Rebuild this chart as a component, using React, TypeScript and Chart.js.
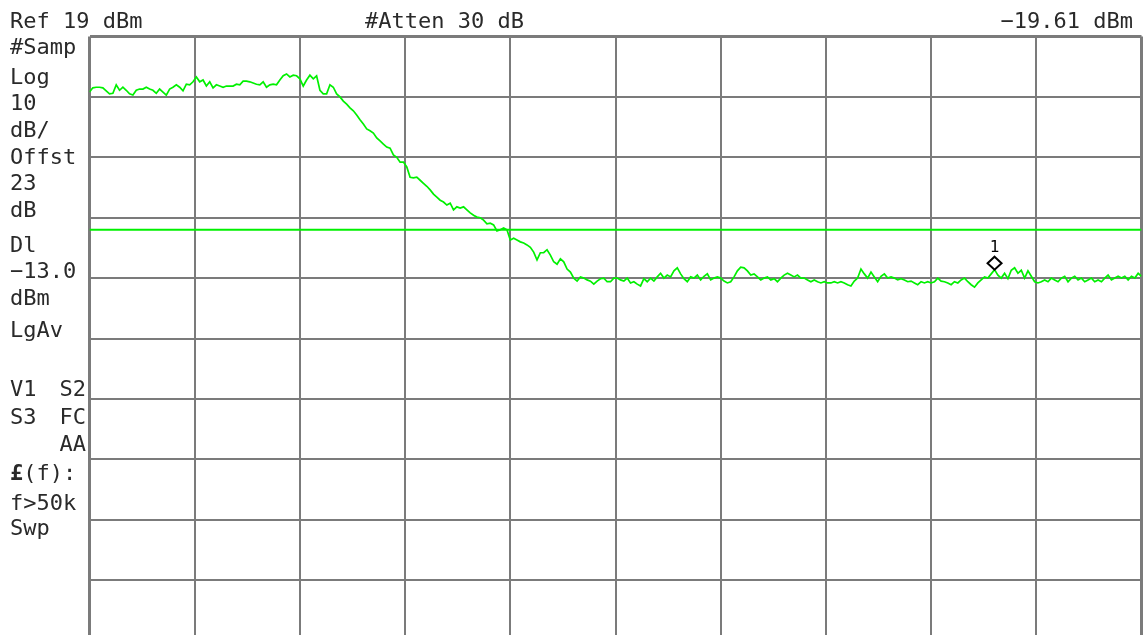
import React, { useEffect, useRef } from "react";
import { Chart, registerables } from "chart.js";

Chart.register(...registerables);

// ---------- data ----------
const Y_TICKS = [19, 9, -1, -11, -21, -31, -41, -51, -61, -71, -81];
const X_TICKS = [0, 31.5, 63, 94.5, 126, 157.5, 189, 220.5, 252, 283.5, 315];
const DISPLAY_LINE = -13.0;
const MARKER_INDEX = 271;
const MARKER_VALUE = -19.61;
const MARKER_LABEL = "1";

const HEADER_LEFT = "Ref 19 dBm";
const HEADER_MID = "#Atten 30 dB";
const HEADER_RIGHT = "\u221219.61 dBm";

const LEFT_LINES = ["#Samp", "Log", "10", "dB/", "Offst", "23", "dB", "Dl", "\u221213.0", "dBm", "LgAv"];
const PAIR_LEFT = ["V1", "S3", ""];
const PAIR_RIGHT = ["S2", "FC", "AA"];
const BOTTOM_LINES = ["(f):", "f>50k", "Swp"];
const BOLD_PREFIX = "\u00a3";

// trace level in dBm at each sweep point
const TRACE = [
  9.8, 10.5, 10.6, 10.6, 10.5, 10.0, 9.5, 9.6, 11.0, 10.1,
  10.6, 10.1, 9.5, 9.3, 10.1, 10.3, 10.3, 10.6, 10.3, 10.1,
  9.6, 10.3, 9.8, 9.3, 10.3, 10.6, 11.0, 10.6, 10.0, 11.1,
  11.0, 11.5, 12.3, 11.5, 11.8, 10.8, 11.5, 10.5, 11.0, 10.8,
  10.6, 10.8, 10.8, 10.8, 11.1, 11.0, 11.6, 11.6, 11.5, 11.3,
  11.1, 11.0, 11.5, 10.6, 11.0, 11.1, 11.0, 11.8, 12.5, 12.8,
  12.3, 12.6, 12.5, 12.0, 10.8, 11.8, 12.6, 12.0, 12.5, 10.1,
  9.5, 9.5, 11.0, 10.6, 9.5, 9.0, 8.3, 7.8, 7.2, 6.7,
  6.0, 5.2, 4.5, 3.7, 3.4, 3.0, 2.2, 1.7, 1.2, 0.7,
  0.5, -0.6, -1.0, -1.8, -1.8, -2.6, -4.3, -4.4, -4.3, -4.8,
  -5.3, -5.8, -6.4, -7.1, -7.6, -8.1, -8.4, -8.9, -8.6, -9.7,
  -9.2, -9.4, -9.2, -9.7, -10.2, -10.6, -10.9, -11.0, -11.4, -12.0,
  -11.9, -12.2, -13.2, -13.0, -12.7, -13.0, -14.7, -14.4, -14.7, -15.0,
  -15.2, -15.5, -15.9, -16.7, -18.0, -16.8, -16.8, -16.3, -17.2, -18.3,
  -18.7, -17.8, -18.3, -19.5, -20.0, -21.0, -21.5, -20.8, -21.0, -21.3,
  -21.5, -22.0, -21.5, -21.1, -21.0, -21.6, -21.6, -21.0, -21.0, -21.3,
  -21.5, -21.0, -21.8, -21.6, -22.0, -22.3, -21.1, -21.6, -21.0, -21.5,
  -20.8, -20.2, -21.0, -20.5, -20.8, -19.8, -19.3, -20.3, -21.1, -21.6,
  -20.8, -21.0, -20.5, -21.3, -20.7, -20.3, -21.3, -21.0, -20.8, -21.0,
  -21.5, -21.8, -21.6, -20.8, -19.8, -19.2, -19.3, -19.8, -20.5, -20.3,
  -20.8, -21.3, -21.0, -20.8, -21.3, -21.1, -21.6, -21.0, -20.5, -20.2,
  -20.5, -20.8, -20.5, -21.0, -21.0, -21.3, -21.6, -21.3, -21.6, -21.8,
  -21.6, -21.8, -21.8, -21.6, -21.8, -21.6, -21.8, -22.1, -22.3, -21.5,
  -21.0, -19.5, -20.3, -21.0, -20.0, -20.8, -21.6, -20.7, -20.3, -21.0,
  -20.8, -21.0, -21.3, -21.1, -21.3, -21.6, -21.5, -21.8, -22.1, -21.6,
  -21.8, -21.6, -21.8, -21.6, -21.0, -21.5, -21.6, -21.8, -22.1, -21.6,
  -21.8, -21.3, -21.0, -21.6, -22.1, -22.5, -21.8, -21.3, -20.8, -21.0,
  -20.3, -19.6, -20.5, -21.0, -20.2, -21.1, -19.7, -19.3, -20.2, -19.7,
  -21.0, -19.8, -20.7, -21.6, -21.8, -21.6, -21.3, -21.6, -21.0, -21.3,
  -21.6, -21.0, -20.7, -21.6, -21.0, -20.7, -21.3, -21.0, -21.6, -21.3,
  -21.0, -21.6, -21.3, -21.6, -21.0, -20.5, -21.3, -21.0, -20.7, -21.0,
  -20.7, -21.3, -20.7, -21.0, -20.2, -20.7,
];

// ---------- layout / style ----------
const W = 1144;
const H = 645;
const GRID = "#7b7b7b";
const TRACE_COLOR = "#00f000";
const TEXT_COLOR = "#2a2a2a";
const FONT_FAMILY = '"DejaVu Sans Mono", monospace';
const FONT = `22px ${FONT_FAMILY}`;
const FONT_BOLD = `bold 22px ${FONT_FAMILY}`;
const TEXT_X = 10;
const RIGHT_COL_X = 86;
const HEADER_Y = 28;
const LEFT_BASELINES = [54, 84, 110, 137, 164, 190, 217, 252, 278, 305, 337];
const PAIR_BASELINES = [396, 424, 451];
const BOTTOM_BASELINES = [480, 510, 535];

const overlay = {
  id: "overlay",
  afterDatasetsDraw(chart: any) {
    const { ctx, scales } = chart;
    const px = scales.x.getPixelForValue(MARKER_INDEX);
    const py = scales.y.getPixelForValue(MARKER_VALUE);
    ctx.save();
    ctx.beginPath();
    ctx.moveTo(px, py - 13);
    ctx.lineTo(px + 7, py - 6.5);
    ctx.lineTo(px, py);
    ctx.lineTo(px - 7, py - 6.5);
    ctx.closePath();
    ctx.fillStyle = "#fff";
    ctx.fill();
    ctx.lineWidth = 2;
    ctx.strokeStyle = "#000";
    ctx.stroke();
    ctx.font = `16px ${FONT_FAMILY}`;
    ctx.textAlign = "center";
    ctx.textBaseline = "alphabetic";
    ctx.fillStyle = "#000";
    ctx.fillText(MARKER_LABEL, px, py - 18);
    ctx.restore();
  },
  afterDraw(chart: any) {
    const { ctx } = chart;
    ctx.save();
    ctx.fillStyle = TEXT_COLOR;
    ctx.font = FONT;
    ctx.textBaseline = "alphabetic";
    ctx.textAlign = "left";
    ctx.fillText(HEADER_LEFT, TEXT_X, HEADER_Y);
    ctx.fillText(HEADER_MID, 365, HEADER_Y);
    ctx.textAlign = "right";
    ctx.fillText(HEADER_RIGHT, 1133, HEADER_Y);
    ctx.textAlign = "left";
    LEFT_LINES.forEach((t, i) => ctx.fillText(t, TEXT_X, LEFT_BASELINES[i]));
    PAIR_LEFT.forEach((t, i) => {
      ctx.textAlign = "left";
      ctx.fillText(t, TEXT_X, PAIR_BASELINES[i]);
      ctx.textAlign = "right";
      ctx.fillText(PAIR_RIGHT[i], RIGHT_COL_X, PAIR_BASELINES[i]);
    });
    ctx.textAlign = "left";
    ctx.font = FONT_BOLD;
    ctx.fillText(BOLD_PREFIX, TEXT_X, BOTTOM_BASELINES[0]);
    const bw = ctx.measureText(BOLD_PREFIX).width;
    ctx.font = FONT;
    ctx.fillText(BOTTOM_LINES[0], TEXT_X + bw, BOTTOM_BASELINES[0]);
    ctx.fillText(BOTTOM_LINES[1], TEXT_X, BOTTOM_BASELINES[1]);
    ctx.fillText(BOTTOM_LINES[2], TEXT_X, BOTTOM_BASELINES[2]);
    ctx.restore();
  },
};

export default function App() {
  const ref = useRef<HTMLCanvasElement | null>(null);

  useEffect(() => {
    document.body.style.margin = "0";
    document.body.style.overflow = "hidden";
    document.body.style.background = "#fff";
    const canvas = ref.current;
    if (!canvas) return;
    const last = TRACE.length - 1;
    const edgeWidth = (n: number) => (c: any) => (c.index === 0 || c.index === n - 1 ? 3 : 2);
    const chart = new Chart(canvas, {
      type: "line",
      data: {
        datasets: [
          {
            data: [
              { x: 0, y: DISPLAY_LINE },
              { x: last, y: DISPLAY_LINE },
            ],
            borderColor: TRACE_COLOR,
            borderWidth: 2,
            pointRadius: 0,
          },
          {
            data: TRACE.map((v, i) => ({ x: i, y: v })),
            borderColor: TRACE_COLOR,
            borderWidth: 1.7,
            pointRadius: 0,
            tension: 0,
          },
        ],
      },
      options: {
        responsive: false,
        animation: false,
        devicePixelRatio: 1,
        layout: { padding: { left: 89.5, top: 36.5, right: 2.5, bottom: 4.5 } },
        plugins: { legend: { display: false }, tooltip: { enabled: false } },
        scales: {
          x: {
            type: "linear",
            min: X_TICKS[0],
            max: X_TICKS[X_TICKS.length - 1],
            afterBuildTicks: (s: any) => {
              s.ticks = X_TICKS.map((v) => ({ value: v }));
            },
            ticks: { display: false },
            grid: { color: GRID, lineWidth: edgeWidth(X_TICKS.length), drawTicks: false },
            border: { display: false },
          },
          y: {
            type: "linear",
            min: Y_TICKS[Y_TICKS.length - 1],
            max: Y_TICKS[0],
            afterBuildTicks: (s: any) => {
              s.ticks = [...Y_TICKS].reverse().map((v) => ({ value: v }));
            },
            ticks: { display: false },
            grid: { color: GRID, lineWidth: edgeWidth(Y_TICKS.length), drawTicks: false },
            border: { display: false },
          },
        },
      },
      plugins: [overlay],
    } as any);
    return () => chart.destroy();
  }, []);

  return (
    <div style={{ position: "fixed", left: 0, top: 0, width: W, height: 635, overflow: "hidden", background: "#fff" }}>
      <canvas ref={ref} width={W} height={H} style={{ display: "block", width: W, height: H }} />
    </div>
  );
}
